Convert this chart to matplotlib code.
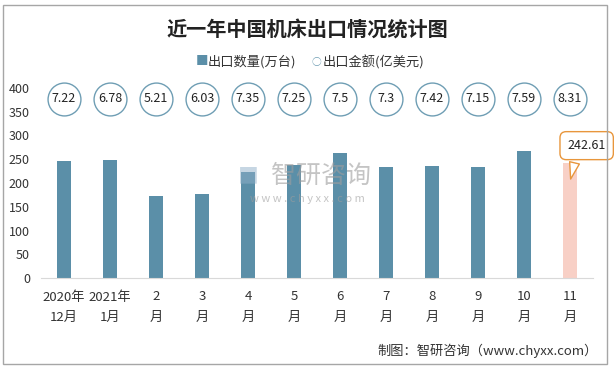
import matplotlib
matplotlib.use("Agg")
import matplotlib.pyplot as plt
import matplotlib.patches as mpatches
from matplotlib.transforms import blended_transform_factory, offset_copy
import numpy as np

plt.rcParams['font.family'] = ['Noto Sans CJK SC', 'DejaVu Sans']

title = "近一年中国机床出口情况统计图"
categories = ["2020年\n12月", "2021年\n1月", "2\n月", "3\n月", "4\n月", "5\n月",
              "6\n月", "7\n月", "8\n月", "9\n月", "10\n月", "11\n月"]
quantity = [246, 248, 172.5, 177, 223, 238, 263, 234, 236, 234, 267, 242.61]   # 出口数量(万台)
amount = [7.22, 6.78, 5.21, 6.03, 7.35, 7.25, 7.5, 7.3, 7.42, 7.15, 7.59, 8.31]  # 出口金额(亿美元)
yticks = [0, 50, 100, 150, 200, 250, 300, 350, 400]
legend_labels = ["出口数量(万台)", "出口金额(亿美元)"]
source = "制图：智研咨询（www.chyxx.com）"

bar_color = "#5B8FA8"
hi_color = "#F8D0C6"
circ_color = "#6F9EB4"
orange = "#E8963C"

fig = plt.figure(figsize=(6.14, 3.69), dpi=100)
fig.patch.set_facecolor("white")
# outer frame
fig.add_artist(mpatches.Rectangle((3/614, 5/369), 604/614, 359/369, transform=fig.transFigure,
                                  fill=False, ec="#A6A6A6", lw=1.0))

ax = fig.add_axes([41/614, 91/369, 552/614, 190/369])
x = np.arange(len(categories))
colors = [bar_color] * (len(x) - 1) + [hi_color]
ax.bar(x, quantity, width=0.32, color=colors, zorder=2)
ax.set_xlim(-0.5, len(x) - 0.5)
ax.set_ylim(0, 400)
ax.set_yticks(yticks)
ax.set_xticks(x)
ax.set_xticklabels(categories, fontsize=9.5, color="#333333", linespacing=1.7)
ax.tick_params(axis='both', length=0)
ax.tick_params(axis='y', pad=8, labelsize=9, labelcolor="#333333")
ax.tick_params(axis='x', pad=9)
for s in ["top", "right", "left"]:
    ax.spines[s].set_visible(False)
ax.spines["bottom"].set_color("#D9D9D9")

# amount circles
tr = blended_transform_factory(ax.transData, ax.transAxes)
ax.scatter(x, [0.943] * len(x), s=560, facecolor="white", edgecolor=circ_color,
           linewidth=1.0, transform=tr, zorder=3, clip_on=False)
for xi, a in zip(x, amount):
    ax.text(xi, 0.943, f"{a:g}", transform=tr, ha="center", va="center",
            fontsize=9, color="#222222", zorder=4)

# callout for last bar
tip_tr = offset_copy(ax.transData, fig=fig, x=0, y=-19 * 0.72, units="points")
ax.annotate(f"{quantity[-1]:.2f}", xy=(x[-1], quantity[-1]), xycoords=tip_tr,
            xytext=(12, 26), textcoords="offset points", ha="center", va="center",
            fontsize=9, color="#222222", zorder=6,
            bbox=dict(boxstyle="round,pad=0.6,rounding_size=0.5", fc="white", ec=orange, lw=1.0),
            arrowprops=dict(arrowstyle="wedge,tail_width=0.8,shrink_factor=0.5",
                            fc="white", ec=orange, lw=1.0, relpos=(0.25, 0.0)))

# watermark
fig.text(0.523, 0.522, "智研咨询", fontsize=18, color="#9E9E9E", alpha=0.6,
         ha="center", va="center", zorder=5)
fig.text(0.404, 0.522, "■", fontsize=15, color="#8FAFC8", alpha=0.5,
         ha="center", va="center", zorder=5)
fig.text(0.5, 0.462, "w w w . c h y x x . c o m", fontsize=8, color="#9E9E9E", alpha=0.6,
         ha="center", va="center", zorder=5)

# title
fig.text(0.5, 0.918, title, fontsize=14.5, fontweight="bold", ha="center", va="center", color="#222222")

# legend
fig.text(0.318, 0.832, "■", fontsize=9, color=bar_color, ha="left", va="center")
fig.text(0.338, 0.832, legend_labels[0], fontsize=9.5, color="#333333", ha="left", va="center")
fig.text(0.508, 0.832, "○", fontsize=7, color=circ_color, ha="left", va="center")
fig.text(0.526, 0.832, legend_labels[1], fontsize=9.5, color="#333333", ha="left", va="center")

# source
fig.text(0.974, 0.05, source, fontsize=9.5, color="#333333", ha="right", va="center")

fig.savefig("out.png", dpi=100)
